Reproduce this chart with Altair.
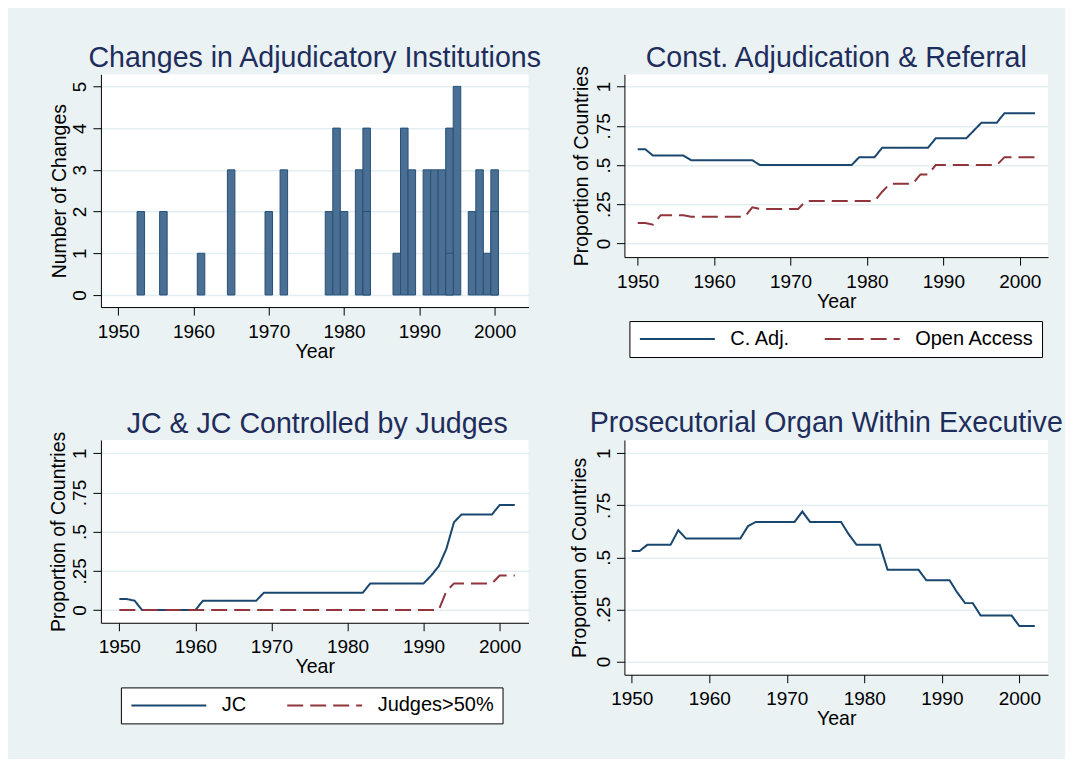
import altair as alt
import pandas as pd

# ---------------- data ----------------
years = list(range(1950, 2003))

change_years = [1953, 1956, 1961, 1965, 1970, 1972, 1978, 1979, 1980, 1982, 1983,
                1987, 1988, 1989, 1991, 1992, 1993, 1994, 1995, 1997, 1998, 1999, 2000]
change_counts = [2, 2, 1, 3, 2, 3, 2, 4, 2, 3, 4,
                 1, 4, 3, 3, 3, 3, 4, 5, 2, 3, 1, 3]
inner_years = [1983, 1994, 2000]
inner_counts = [2, 1, 2]

c_adj = ([0.60] * 2 + [0.56] * 5 + [0.53] * 9 + [0.50] * 13 + [0.55] * 3 +
         [0.61] * 7 + [0.67] * 5 + [0.72] + [0.77] * 3 + [0.83] * 5)
open_access = ([0.13] * 2 + [0.12] + [0.18] * 4 + [0.17] * 8 + [0.23] + [0.22] * 6 +
               [0.27] * 10 + [0.33] + [0.38] * 4 + [0.44] * 2 + [0.50] * 9 + [0.55] * 5)
jc = ([0.07] * 2 + [0.06] + [0.0] * 8 + [0.06] * 8 + [0.11] * 14 + [0.17] * 8 +
      [0.22, 0.28, 0.39, 0.56] + [0.61] * 5 + [0.67] * 3)
judges = [0.0] * 43 + [0.12] + [0.17] * 6 + [0.22] * 3
prosecutor = ([0.53] * 2 + [0.56] * 4 + [0.63] + [0.59] * 8 + [0.65] + [0.67] * 6 +
              [0.72] + [0.67] * 5 + [0.61] + [0.56] * 4 + [0.44] * 5 + [0.39] * 4 +
              [0.33] + [0.28] * 2 + [0.22] * 5 + [0.17] * 3)

series2 = ["C. Adj.", "Open Access"]
series3 = ["JC", "Judges>50%"]

x_ticks = [1950, 1960, 1970, 1980, 1990, 2000]
y_ticks_counts = [0, 1, 2, 3, 4, 5]
y_ticks_prop = [0, 0.25, 0.5, 0.75, 1]

# ---------------- style ----------------
FONT = "Liberation Sans"
NAVY = "#1A476F"
MAROON = "#90353B"
TITLE_C = "#1E2D5B"
BG = "#EAF2F3"
GRID = "#E4EEF1"
LABEL_EXPR = ("datum.value > 0 && datum.value < 1 ? slice(format(datum.value, '~g'), 1)"
              " : format(datum.value, '~g')")
TITLE_DY = 30


def x_axis():
    return alt.Axis(values=x_ticks, title="Year", format="d", grid=False,
                    tickSize=8, labelPadding=22, labelBaseline="alphabetic",
                    labelFlush=False, titleY=50, titleBaseline="alphabetic")


def y_axis(values, title, h, tx):
    return alt.Axis(values=values, title=title, grid=True, gridColor=GRID, gridWidth=1.5,
                    tickSize=8, labelAngle=270, labelAlign="center",
                    labelBaseline="alphabetic", labelPadding=7, labelExpr=LABEL_EXPR,
                    titleAngle=270, titleAlign="center", titleBaseline="alphabetic",
                    titleX=tx, titleY=h / 2)


def title(text, dx=0, dy=0):
    return alt.TitleParams(text=text, font=FONT, fontSize=28.6, color=TITLE_C,
                           fontWeight="normal", anchor="middle", frame="group",
                           baseline="alphabetic", offset=9, dx=dx, dy=dy + TITLE_DY)


def legend(lx, ly, colpad):
    # long key line: custom path scaled by sqrt(symbolSize)/2 = 7.5 -> 75px line
    return alt.Legend(orient="none", legendX=lx, legendY=ly, direction="horizontal",
                      title=None, fillColor="white", strokeColor="black", padding=8,
                      symbolType="M-1,0H9", symbolSize=225, symbolStrokeWidth=2,
                      labelFont=FONT, labelFontSize=20, labelColor="black",
                      labelOffset=73, columnPadding=colpad, labelLimit=400)


# ---------------- panel 1: bars ----------------
W1, H1 = 428, 233
df_bars = pd.DataFrame({"Year": change_years, "Changes": change_counts})
df_inner = pd.DataFrame({"Year": inner_years, "Changes": inner_counts})
xs1 = alt.Scale(domain=[1947.7, 2004.5], nice=False, zero=False)
ys1 = alt.Scale(domain=[-0.29, 5.29], nice=False, zero=False)


def bar_layer(df):
    return (alt.Chart(df)
            .transform_calculate(x0="datum.Year - 0.5", x1="datum.Year + 0.5")
            .mark_bar(fill="#4A6F93", stroke="#24507A", strokeWidth=1)
            .encode(x=alt.X("x0:Q", scale=xs1, axis=x_axis()),
                    x2="x1:Q",
                    y=alt.Y("Changes:Q", scale=ys1,
                            axis=y_axis(y_ticks_counts, "Number of Changes", H1, -35)),
                    y2=alt.datum(0)))


p1 = alt.layer(bar_layer(df_bars), bar_layer(df_inner)).properties(
    width=W1, height=H1, title=title("Changes in Adjudicatory Institutions"))

# ---------------- panel 2 ----------------
W2, H2 = 424, 183
df2 = pd.DataFrame({"Year": years * 2, "value": c_adj + open_access,
                    "series": [series2[0]] * len(years) + [series2[1]] * len(years)})
p2 = (alt.Chart(df2).mark_line(strokeWidth=2)
      .encode(
          x=alt.X("Year:Q", scale=alt.Scale(domain=[1948.26, 2003.7], nice=False, zero=False),
                  axis=x_axis()),
          y=alt.Y("value:Q", scale=alt.Scale(domain=[-0.087, 1.078], nice=False, zero=False),
                  axis=y_axis(y_ticks_prop, "Proportion of Countries", H2, -37)),
          color=alt.Color("series:N", scale=alt.Scale(domain=series2, range=[NAVY, MAROON]),
                          legend=legend(5, 247, 29)),
          strokeDash=alt.StrokeDash("series:N",
                                    scale=alt.Scale(domain=series2, range=[[1, 0], [16, 7]]),
                                    legend=legend(5, 247, 29)),
      )
      .properties(width=W2, height=H2, title=title("Const. Adjudication & Referral", dy=9)))

# ---------------- panel 3 ----------------
W3, H3 = 428, 183
df3 = pd.DataFrame({"Year": years * 2, "value": jc + judges,
                    "series": [series3[0]] * len(years) + [series3[1]] * len(years)})
p3 = (alt.Chart(df3).mark_line(strokeWidth=2)
      .encode(
          x=alt.X("Year:Q", scale=alt.Scale(domain=[1947.58, 2003.8], nice=False, zero=False),
                  axis=x_axis()),
          y=alt.Y("value:Q", scale=alt.Scale(domain=[-0.081, 1.085], nice=False, zero=False),
                  axis=y_axis(y_ticks_prop, "Proportion of Countries", H3, -36)),
          color=alt.Color("series:N", scale=alt.Scale(domain=series3, range=[NAVY, MAROON]),
                          legend=legend(20, 247.7, 36)),
          strokeDash=alt.StrokeDash("series:N",
                                    scale=alt.Scale(domain=series3, range=[[1, 0], [16, 7]]),
                                    legend=legend(20, 247.7, 36)),
      )
      .properties(width=W3, height=H3, title=title("JC & JC Controlled by Judges", dx=2.5, dy=9)))

# ---------------- panel 4 ----------------
W4, H4 = 424, 235
df4 = pd.DataFrame({"Year": years, "value": prosecutor})
p4 = (alt.Chart(df4).mark_line(strokeWidth=2, color=NAVY)
      .encode(
          x=alt.X("Year:Q", scale=alt.Scale(domain=[1949.05, 2003.7], nice=False, zero=False),
                  axis=x_axis()),
          y=alt.Y("value:Q", scale=alt.Scale(domain=[-0.064, 1.064], nice=False, zero=False),
                  axis=y_axis(y_ticks_prop, "Proportion of Countries", H4, -39)),
      )
      .properties(width=W4, height=H4, title=title("Prosecutorial Organ Within Executive", dx=-10)))

chart = (alt.concat(p1, p2, p3, p4, columns=2, bounds="flush",
                    spacing={"row": 133, "column": 96})
         .resolve_scale(color="independent", strokeDash="independent")
         .resolve_legend(color="independent", strokeDash="independent")
         .configure(background=BG, font=FONT,
                    padding={"left": 40, "top": 35, "right": 2, "bottom": 30})
         .configure_view(fill="white", strokeWidth=0)
         .configure_axis(labelFont=FONT, titleFont=FONT, labelColor="black",
                         titleColor="black", domainColor="black", tickColor="black",
                         domainWidth=1, tickWidth=1, labelFontSize=19,
                         titleFontSize=19.5, titleFontWeight="normal"))

chart.save("out.html", embed_options={"renderer": "svg", "actions": False})
